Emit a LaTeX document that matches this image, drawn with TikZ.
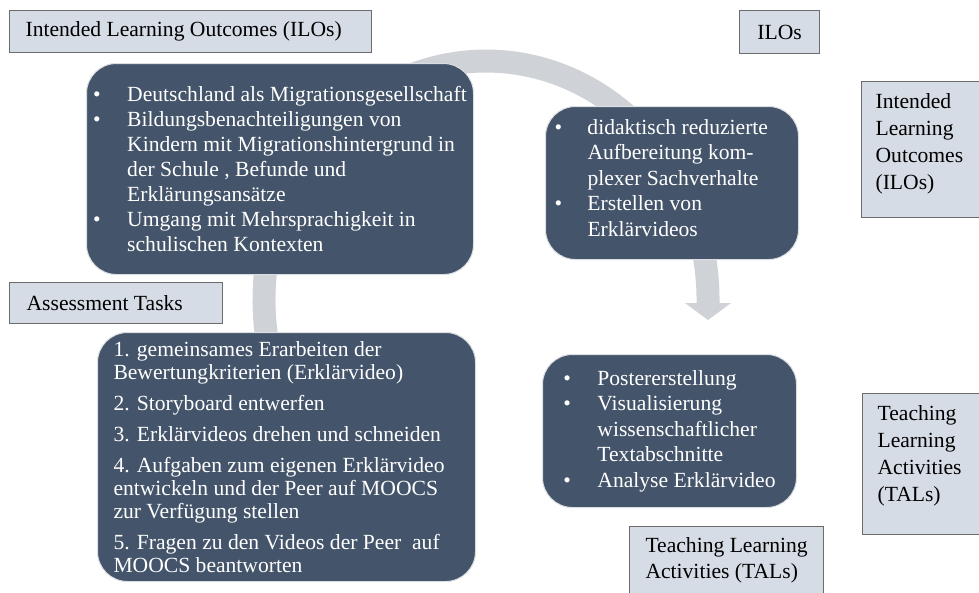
\documentclass[tikz,border=0pt]{standalone}
\usepackage{fontspec}
\setmainfont{Liberation Serif}
\usepackage{xcolor}
\usepackage{tikz}
\usetikzlibrary{positioning}

\definecolor{slate}{HTML}{44546A}
\definecolor{paleblue}{HTML}{D6DCE5}
\definecolor{ringgrey}{HTML}{CFD2D7}
\definecolor{edgegrey}{HTML}{6B6B6B}

\newcommand{\blt}[1]{\makebox[#1][l]{\textbullet}}

\begin{document}
\begin{tikzpicture}[
    x=1pt, y=-1pt,
    font=\fontsize{21.6}{25}\selectfont,
    tagbox/.style={
        rectangle,
        draw=edgegrey,
        line width=1.2pt,
        fill=paleblue,
        anchor=north west,
        inner sep=0pt,
        align=flush left
    },
    darkbox/.style={
        rectangle,
        draw=white!80!slate,
        line width=1pt,
        fill=slate,
        text=white,
        rounded corners=30pt,
        anchor=north west,
        inner sep=0pt,
        align=flush left
    }
]
  \useasboundingbox (0,0) rectangle (979,592);
  \clip (0,0) rectangle (979,592);

  % ring behind the boxes
  \coordinate (ringc) at (486,300);
  \draw[ringgrey, line width=23pt]
    (271.6,361.9) arc[start angle=165, end angle=360, x radius=222, y radius=239]
    -- (708,304);
  \fill[ringgrey] (685,303) -- (731,303) -- (708,320) -- cycle;

  % labels
  \node[tagbox, inner xsep=16pt, text width=330pt, minimum height=42pt] (iloTitle) at (9,10)
    {Intended Learning Outcomes (ILOs)};
  \node[tagbox, align=center, minimum width=80pt, minimum height=43pt] (iloShort) at (739,10)
    {ILOs};
  \node[tagbox, inner xsep=14pt, text width=96pt, minimum height=136pt,
        font=\fontsize{21.6}{27}\selectfont] (iloSide) at (861,81)
    {Intended\\Learning\\Outcomes\\(ILOs)\\[-10pt]\mbox{}};
  \node[tagbox, inner xsep=17pt, text width=179pt, minimum height=41pt] (assessTitle) at (9,282)
    {Assessment Tasks};
  \node[tagbox, inner xsep=15pt, text width=93pt, minimum height=141pt,
        font=\fontsize{21.6}{27}\selectfont] (talSide) at (862,393)
    {Teaching\\Learning\\Activities\\(TALs)\\[-6pt]\mbox{}};
  \node[tagbox, align=left, minimum width=194pt, minimum height=68pt,
        font=\fontsize{21.6}{26}\selectfont] (talTitle) at (629,526)
    {Teaching Learning\\Activities (TALs)};

  % content boxes
  \node[darkbox, align=left, minimum width=387pt, minimum height=211pt] (iloMain) at (86,63)
    {\blt{34pt}Deutschland als Migrationsgesellschaft\\
     \blt{34pt}Bildungsbenachteiligungen von\\
     \hspace*{34pt}Kindern mit Migrationshintergrund in\\
     \hspace*{34pt}der Schule , Befunde und\\
     \hspace*{34pt}Erklärungsansätze\\
     \blt{34pt}Umgang mit Mehrsprachigkeit in\\
     \hspace*{34pt}schulischen Kontexten};
  \node[darkbox, inner xsep=9pt, text width=235pt, minimum height=153pt,
        font=\fontsize{21.6}{25.5}\selectfont] (iloVideo) at (545,106)
    {\blt{33pt}didaktisch reduzierte\\
     \hspace*{33pt}Aufbereitung kom-\\
     \hspace*{33pt}plexer Sachverhalte\\
     \blt{33pt}Erstellen von\\
     \hspace*{33pt}Erklärvideos\\[-15.5pt]\mbox{}};
  \node[darkbox, inner xsep=16pt, text width=346pt, minimum height=249pt,
        font=\fontsize{21.6}{23}\selectfont] (tasks) at (97,332)
    {1. gemeinsames Erarbeiten der\\
     Bewertungkriterien (Erklärvideo)\\[8pt]
     2. Storyboard entwerfen\\[8pt]
     3. Erklärvideos drehen und schneiden\\[8pt]
     4. Aufgaben zum eigenen Erklärvideo\\
     entwickeln und der Peer auf MOOCS\\
     zur Verfügung stellen\\[8pt]
     5. Fragen zu den Videos der Peer\ \ auf\\
     MOOCS beantworten};
  \node[darkbox, align=left, minimum width=254pt, minimum height=153pt,
        font=\fontsize{21.6}{25.5}\selectfont] (activities) at (542,354)
    {\blt{34pt}Postererstellung\\
     \blt{34pt}Visualisierung\\
     \hspace*{34pt}wissenschaftlicher\\
     \hspace*{34pt}Textabschnitte\\
     \blt{34pt}Analyse Erklärvideo};
\end{tikzpicture}
\end{document}
